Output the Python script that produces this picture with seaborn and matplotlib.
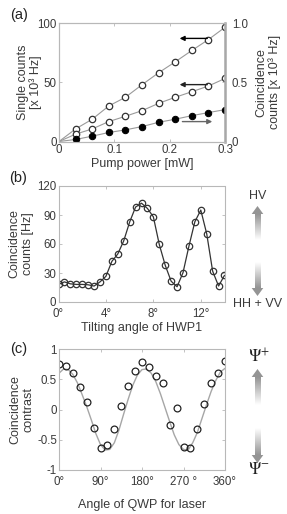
import numpy as np
import matplotlib
matplotlib.use("Agg")
import matplotlib.pyplot as plt
import seaborn as sns
from matplotlib.patches import Polygon

# ---------------- data ----------------
# (a) pump power dependence
pump_power = [0.0, 0.03, 0.06, 0.09, 0.12, 0.15, 0.18, 0.21, 0.24, 0.27, 0.30]
single_counts_1 = [0.0, 10.6, 18.8, 30.0, 37.3, 47.9, 58.0, 67.2, 76.8, 86.0, 96.4]
single_counts_2 = [0.0, 6.2, 10.6, 16.8, 21.3, 26.0, 32.2, 37.3, 42.0, 46.8, 53.2]
coincidence_a = [0.0, 0.017, 0.045, 0.076, 0.098, 0.126, 0.162, 0.188, 0.218, 0.244, 0.269]

# (b) tilt of HWP1
tilt_angle = [0.0, 0.5, 1.0, 1.5, 2.0, 2.5, 3.0, 3.5, 4.0, 4.5, 5.0, 5.5, 6.0, 6.5, 7.0,
              7.5, 8.0, 8.5, 9.0, 9.5, 10.0, 10.5, 11.0, 11.5, 12.0, 12.5, 13.0, 13.5, 14.0]
coincidence_b = [18.2, 20.8, 18.8, 18.2, 18.2, 17.8, 16.5, 20.8, 26.6, 42.0, 49.7, 63.2, 82.7,
                 98.2, 102.2, 96.8, 88.1, 59.5, 38.0, 21.5, 15.8, 30.3, 57.8, 83.0, 95.1,
                 70.6, 31.9, 16.5, 27.6]
tilt_ticks = [0, 4, 8, 12]
tilt_ticklabels = ["0°", "4°", "8°", "12°"]

# (c) QWP angle
qwp_angle = [0, 15, 30, 45, 60, 75, 90, 105, 120, 135, 150, 165, 180, 195, 210, 225,
             240, 255, 270, 285, 300, 315, 330, 345, 360]
contrast = [0.75, 0.72, 0.61, 0.38, 0.12, -0.31, -0.63, -0.58, -0.33, 0.05, 0.39, 0.64,
            0.78, 0.70, 0.55, 0.44, -0.26, 0.02, -0.62, -0.64, -0.32, 0.09, 0.44, 0.60, 0.80]
curve_angle = [0, 10, 20, 30, 40, 50, 60, 70, 80, 90, 100, 110, 120, 130, 140, 150, 160,
               170, 180, 190, 200, 210, 220, 230, 240, 250, 260, 270, 280, 290, 300, 310,
               320, 330, 340, 350, 360]
curve_contrast = [0.60, 0.67, 0.66, 0.58, 0.44, 0.25, 0.05, -0.17, -0.40, -0.58, -0.67,
                  -0.66, -0.55, -0.34, -0.08, 0.17, 0.40, 0.57, 0.66, 0.67, 0.60, 0.46,
                  0.26, 0.03, -0.20, -0.42, -0.58, -0.66, -0.67, -0.55, -0.38, -0.15,
                  0.08, 0.30, 0.48, 0.62, 0.68]
qwp_ticks = [0, 90, 180, 270, 360]
qwp_ticklabels = ["0°", "90°", "180°", "270 °", "360°"]

# ---------------- style ----------------
sns.set_theme(style="white")
plt.rcParams["font.family"] = ["Liberation Sans", "DejaVu Sans"]
plt.rcParams["mathtext.fontset"] = "stix"

W, H = 287, 514
fig = plt.figure(figsize=(W / 100, H / 100), dpi=100)

TXT = "#3a3a3a"
FRAME = "#b8b8b8"
FS_TICK = 8.3
FS_LAB = 9
MS = 4.6


def style_axes(ax):
    for s in ax.spines.values():
        s.set_color(FRAME)
        s.set_linewidth(0.8)
    ax.tick_params(direction="in", length=2, width=0.6, color=FRAME,
                   labelsize=FS_TICK, labelcolor=TXT, pad=1.5,
                   top=True, right=True, bottom=True, left=True)


def ax_rect(l, t, r, b):
    return [l / W, 1 - b / H, (r - l) / W, (b - t) / H]


# ---------------- (a) ----------------
axa = fig.add_axes(ax_rect(59, 23, 225, 141.5))
sns.lineplot(x=pump_power, y=single_counts_1, ax=axa, color="#9a9a9a", lw=0.8)
sns.lineplot(x=pump_power, y=single_counts_2, ax=axa, color="#9a9a9a", lw=0.8)
sns.lineplot(x=pump_power[1:], y=single_counts_1[1:], ax=axa, linestyle="none", marker="o",
             markersize=MS, markerfacecolor="white", markeredgecolor="#333333",
             markeredgewidth=0.9)
sns.lineplot(x=pump_power[1:], y=single_counts_2[1:], ax=axa, linestyle="none", marker="o",
             markersize=MS, markerfacecolor="white", markeredgecolor="#333333",
             markeredgewidth=0.9)
axa.set_xlim(0, 0.3)
axa.set_ylim(0, 100)
axa.set_xticks([0, 0.1, 0.2, 0.3])
axa.set_xticklabels(["0", "0.1", "0.2", "0.3"])
axa.set_yticks([0, 50, 100])
style_axes(axa)
axa.tick_params(right=False)
axa.set_xlabel("Pump power [mW]", fontsize=FS_LAB, color=TXT, labelpad=2)
axa.set_ylabel("Single counts\n[x 10³ Hz]", fontsize=FS_LAB, color=TXT, linespacing=1.1)
axa.yaxis.set_label_coords(-0.10, 0.5)

axa2 = axa.twinx()
sns.lineplot(x=pump_power, y=coincidence_a, ax=axa2, color="#9a9a9a", lw=0.8)
sns.lineplot(x=pump_power[1:], y=coincidence_a[1:], ax=axa2, linestyle="none", marker="o",
             markersize=MS, markerfacecolor="black", markeredgecolor="black")
axa2.set_ylim(0, 1.0)
axa2.set_yticks([0, 0.5, 1.0])
axa2.set_yticklabels(["0", "0.5", "1.0"])
style_axes(axa2)
axa2.spines["right"].set_linewidth(1.8)
axa2.spines["right"].set_color("#a8a8a8")
axa2.tick_params(left=False, top=False, bottom=False, labelleft=False, labelbottom=False,
                 labelright=True, right=True, pad=5)
axa2.set_ylabel("Coincidence\ncounts [x 10³ Hz]", fontsize=FS_LAB, color=TXT,
                rotation=90, linespacing=1.1)
axa2.yaxis.set_label_coords(1.18, 0.5)

arrow_kw = dict(arrowstyle="-|>", lw=1.0, mutation_scale=7, shrinkA=0, shrinkB=0)
axa.annotate("", xy=(0.218, 87), xytext=(0.268, 87),
             arrowprops=dict(color="black", **arrow_kw))
axa.annotate("", xy=(0.218, 48), xytext=(0.268, 48),
             arrowprops=dict(color="#222222", **arrow_kw))
axa.annotate("", xy=(0.277, 16.8), xytext=(0.223, 16.8),
             arrowprops=dict(color="#666666", **arrow_kw))

# ---------------- (b) ----------------
axb = fig.add_axes(ax_rect(58.5, 186, 224.5, 302))
sns.lineplot(x=tilt_angle, y=coincidence_b, ax=axb, color="#333333", lw=0.9, marker="o",
             markersize=MS, markerfacecolor="none", markeredgecolor="#333333",
             markeredgewidth=0.9)
axb.set_xlim(0, 14)
axb.set_ylim(0, 120)
axb.set_xticks(tilt_ticks)
axb.set_xticklabels(tilt_ticklabels)
axb.set_yticks([0, 30, 60, 90, 120])
style_axes(axb)
axb.tick_params(axis="x", pad=4)
axb.set_xlabel("Tilting angle of HWP1", fontsize=FS_LAB, color=TXT, labelpad=2)
axb.set_ylabel("Coincidence\ncounts [Hz]", fontsize=FS_LAB, color=TXT, linespacing=1.1)
axb.yaxis.set_label_coords(-0.15, 0.5)

# ---------------- (c) ----------------
axc = fig.add_axes(ax_rect(59, 349, 225, 470))
sns.lineplot(x=curve_angle, y=curve_contrast, ax=axc, color="#a6a6a6", lw=1.0)
sns.lineplot(x=qwp_angle, y=contrast, ax=axc, linestyle="none", marker="o",
             markersize=MS + 0.3, markerfacecolor="none", markeredgecolor="#222222",
             markeredgewidth=0.9)
axc.set_xlim(0, 360)
axc.set_ylim(-1, 1)
axc.set_xticks(qwp_ticks)
axc.set_xticklabels(qwp_ticklabels)
axc.set_yticks([-1, -0.5, 0, 0.5, 1])
axc.set_yticklabels(["-1", "-0.5", "0", "0.5", "1"])
style_axes(axc)
axc.tick_params(axis="x", pad=4)
axc.set_xlabel("Angle of QWP for laser", fontsize=FS_LAB, color=TXT, labelpad=8)
axc.set_ylabel("Coincidence\ncontrast", fontsize=FS_LAB, color=TXT, linespacing=1.1)
axc.yaxis.set_label_coords(-0.15, 0.5)

# ---------------- overlay: panel labels and gradient arrows ----------------
ov = fig.add_axes([0, 0, 1, 1], zorder=-1)
ov.set_xlim(0, W)
ov.set_ylim(H, 0)
ov.axis("off")
ov.patch.set_alpha(0)

for lab, (x, y) in {"(a)": (19, 15), "(b)": (18, 178), "(c)": (19, 349)}.items():
    ov.text(x, y, lab, fontsize=10.5, color="#222222", ha="center", va="center")

GRAY = np.array([0.58, 0.58, 0.58])


def grad_arrow(xc, tip_top, head_top, fade_top, fade_bot, head_bot, tip_bot):
    sw = 2.8  # half shaft width
    hw = 5.8  # half head width
    n = 64
    t = np.linspace(0, 1, n)[:, None]
    img_up = (GRAY * (1 - t) + np.ones(3) * t)[:, None, :].repeat(2, axis=1)
    ov.imshow(img_up, extent=[xc - sw, xc + sw, fade_top, head_top], aspect="auto",
              interpolation="bilinear")
    img_dn = (np.ones(3) * (1 - t) + GRAY * t)[:, None, :].repeat(2, axis=1)
    ov.imshow(img_dn, extent=[xc - sw, xc + sw, head_bot, fade_bot], aspect="auto",
              interpolation="bilinear")
    ov.add_patch(Polygon([[xc, tip_top], [xc - hw, head_top], [xc + hw, head_top]],
                         closed=True, fc=GRAY, ec="none"))
    ov.add_patch(Polygon([[xc, tip_bot], [xc - hw, head_bot], [xc + hw, head_bot]],
                         closed=True, fc=GRAY, ec="none"))


grad_arrow(257.5, 206, 214, 240, 262, 288, 296)
grad_arrow(257.5, 369, 377, 405, 428, 455, 463)
ov.set_xlim(0, W)
ov.set_ylim(H, 0)

ov.text(258, 196, "HV", fontsize=9, color=TXT, ha="center", va="center")
ov.text(258, 304, "HH + VV", fontsize=9, color=TXT, ha="center", va="center")
ov.text(259, 356, r"$\Psi^{+}$", fontsize=12, color="#222222", ha="center", va="center")
ov.text(259, 469, r"$\Psi^{-}$", fontsize=12, color="#222222", ha="center", va="center")

fig.savefig("out.png", dpi=100)
